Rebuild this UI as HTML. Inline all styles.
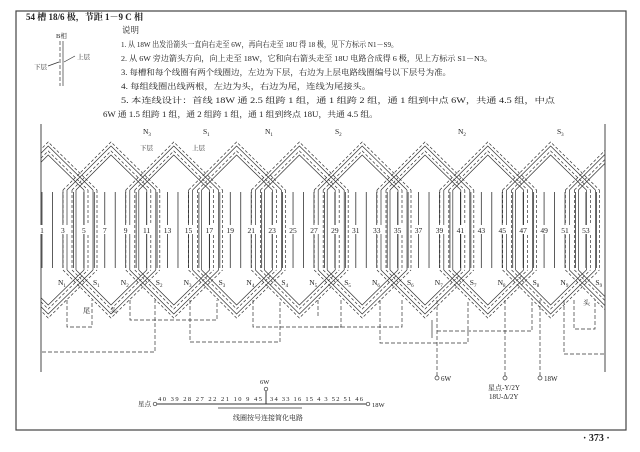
<!DOCTYPE html>
<html><head><meta charset="utf-8">
<style>
html,body{margin:0;padding:0;background:#fff;}
svg{display:block;}
text{font-family:"Liberation Serif","Noto Serif CJK SC",serif;fill:#222;}
</style></head>
<body>
<svg id="s" width="640" height="452" viewBox="0 0 640 452" xmlns="http://www.w3.org/2000/svg">
<defs><clipPath id="cp"><rect x="41" y="120" width="564" height="260"/></clipPath></defs>
<rect x="16" y="11" width="610" height="419" fill="none" stroke="#444" stroke-width="1.2"/>
<text x="26" y="20" font-size="9" font-weight="bold">54 槽 18/6 极，节距 1－9 C 相</text>
<text x="56" y="38" font-size="6.5">B相</text>
<line x1="60" y1="41" x2="60" y2="86" stroke="#333" stroke-width="0.7" stroke-dasharray="4,2"/>
<line x1="63" y1="41" x2="63" y2="86" stroke="#333" stroke-width="0.7"/>
<line x1="64" y1="62" x2="75" y2="56" stroke="#333" stroke-width="0.7"/>
<text x="77" y="59" font-size="6.5">上层</text>
<line x1="48" y1="66" x2="59" y2="62" stroke="#333" stroke-width="0.7"/>
<text x="34" y="69" font-size="6.5">下层</text>
<g font-size="8">
<text x="122" y="33" font-size="8.5">说明</text>
<text x="121" y="47" font-size="7.8" textLength="277" lengthAdjust="spacingAndGlyphs">1. 从 18W 出发沿箭头一直向右走至 6W，再向右走至 18U 得 18 极，见下方标示 N1－S9。</text>
<text x="121" y="61" font-size="7.8" textLength="371" lengthAdjust="spacingAndGlyphs">2. 从 6W 旁边箭头方向，向上走至 18W，它和向右箭头走至 18U 电路合成得 6 极，见上方标示 S1－N3。</text>
<text x="121" y="75" textLength="330" lengthAdjust="spacingAndGlyphs">3. 每槽和每个线圈有两个线圈边，左边为下层，右边为上层电路线圈编号以下层号为准。</text>
<text x="121" y="89" textLength="250" lengthAdjust="spacingAndGlyphs">4. 每组线圈出线两根，左边为头，右边为尾，连线为尾接头。</text>
<text x="121" y="103" textLength="434" lengthAdjust="spacingAndGlyphs">5. 本连线设计：首线 18W 通 2.5 组跨 1 组，通 1 组跨 2 组，通 1 组到中点 6W，共通 4.5 组，中点</text>
<text x="103" y="117" textLength="275" lengthAdjust="spacingAndGlyphs">6W 通 1.5 组跨 1 组，通 2 组跨 1 组，通 1 组到终点 18U，共通 4.5 组。</text>
</g>
<line x1="41" y1="124" x2="41" y2="372" stroke="#333" stroke-width="0.9"/>
<line x1="605" y1="124" x2="605" y2="372" stroke="#333" stroke-width="0.9"/>
<g id="coils" fill="none" stroke="#333" stroke-width="0.7" clip-path="url(#cp)"></g>
<g id="labels" font-size="7.5"></g>
<g fill="none" stroke="#333" stroke-width="0.7" stroke-dasharray="4,2">
<path d="M67 300 V327 H92 V300"/>
<path d="M42 352 H155 V300"/>
<path d="M130 300 V320 H217 V300"/>
<path d="M190 300 V342 H280 V300"/>
<path d="M253 300 V327 H341 V300"/>
<path d="M318 300 V318"/>
<path d="M380 300 V343 H468 V300"/>
<path d="M402 300 V327 H320"/>
<path d="M437 300 V378"/>
<path d="M437 331 H532 V300"/>
<path d="M505 300 V378"/>
<path d="M540 300 V378"/>
<path d="M574 300 V329 H595 V300"/>
<path d="M564 300 V354 H605"/>
</g>
<line x1="432" y1="320" x2="432" y2="338" stroke="#333" stroke-width="0.7"/>
<g fill="#fff" stroke="#333" stroke-width="0.7">
<circle cx="437" cy="378" r="2"/><circle cx="505" cy="378" r="2"/><circle cx="540" cy="378" r="2"/>
</g>
<g font-size="7">
<text x="441" y="381">6W</text>
<text x="544" y="381">18W</text>
<text x="488" y="390">星点-Y/2Y</text>
<text x="489" y="399">18U-Δ/2Y</text>
<text x="83" y="313">尾</text><text x="110" y="313">头</text>
<text x="583" y="305">头</text>
</g>
<line x1="155" y1="404" x2="368" y2="404" stroke="#333" stroke-width="1"/>
<line x1="266" y1="404" x2="266" y2="390" stroke="#333" stroke-width="1"/>
<g fill="#fff" stroke="#333" stroke-width="0.7"><circle cx="155" cy="404" r="1.8"/><circle cx="368" cy="404" r="1.8"/><circle cx="266" cy="389" r="1.8"/></g>
<line x1="218" y1="408" x2="302" y2="408" stroke="#333" stroke-width="0.7"/>
<g font-size="6.5">
<text x="260" y="384">6W</text>
<text x="372" y="407">18W</text>
<text x="138" y="406">星点</text>
<text x="158" y="401" textLength="104" lengthAdjust="spacing">40  39  28  27  22  21  10  9  45</text>
<text x="270" y="401" textLength="93" lengthAdjust="spacing">34  33  16  15  4  3  52  51  46</text>
<text x="233" y="420" font-size="7">线圈按号连接简化电路</text>
</g>
<text x="583" y="441" font-size="10" font-weight="bold">· 373 ·</text>
</svg>
<script>
(function(){
var ns="http://www.w3.org/2000/svg";
var g=document.getElementById('coils'), L=document.getElementById('labels');
function el(p,tag,a){var e=document.createElementNS(ns,tag);for(var k in a)e.setAttribute(k,a[k]);p.appendChild(e);return e;}
function X(n){return 42+(n-1)*10.46;}
for(var n=1;n<=54;n++){el(g,'line',{x1:X(n),y1:192,x2:X(n),y2:268,'stroke-width':0.8});}
var cs=[];for(var k=-1;k<10;k++)cs.push(80+62.8*k);
var ws=[17,13,8,4];
var top=190,bot=270;
cs.forEach(function(c,idx){
 var k=idx-1;
 ws.forEach(function(w,i){
  var dash=(i%2==0)?'3,2':'none';
  el(g,'path',{d:'M'+(c-w)+' '+top+' V'+bot+' M'+(c+w)+' '+top+' V'+bot,'stroke-dasharray':dash});
  var d=31+w;
  el(g,'path',{d:'M'+(c-w)+' '+top+' L'+(c+31)+' '+(top-d)+' L'+(c+62.8+w)+' '+top,'stroke-dasharray':dash});
  el(g,'path',{d:'M'+(c-w)+' '+bot+' L'+(c+31)+' '+(bot+d)+' L'+(c+62.8+w)+' '+bot,'stroke-dasharray':dash});
 });
 if(k>=0&&k<9){
 var t=el(L,'text',{x:c-22,y:285});t.innerHTML='N<tspan font-size="5" dy="2">'+(k+1)+'</tspan>';
 var t2=el(L,'text',{x:c+13,y:285});t2.innerHTML='S<tspan font-size="5" dy="2">'+(k+1)+'</tspan>';
 }
});
for(var n=1;n<=53;n+=2){
 var x=X(n);
 el(L,'rect',{x:x-5,y:225,width:10,height:9,fill:'#fff'});
 el(L,'text',{x:x,y:233,'text-anchor':'middle'}).textContent=n;
}
var tops=[['N',3,143],['S',1,203],['N',1,265],['S',2,335],['N',2,458],['S',3,557]];
tops.forEach(function(a){var t=el(L,'text',{x:a[2],y:134});t.innerHTML=a[0]+'<tspan font-size="5" dy="2">'+a[1]+'</tspan>';});
el(L,'text',{x:140,y:150,'font-size':6.5}).textContent='下层';
el(L,'text',{x:192,y:150,'font-size':6.5}).textContent='上层';
})();
</script>
</body></html>
